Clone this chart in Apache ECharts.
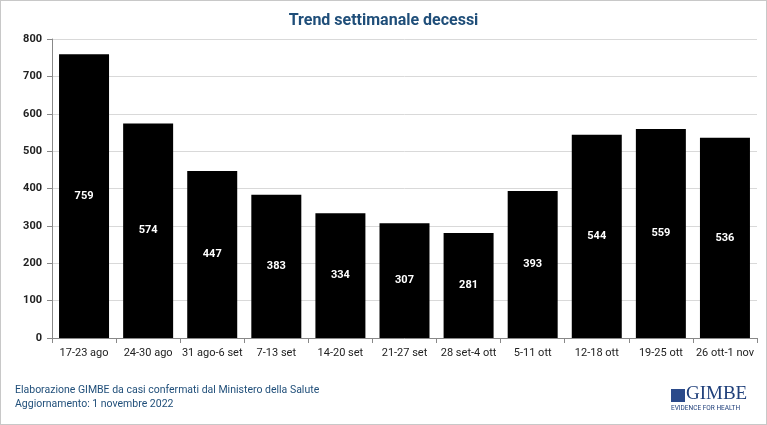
<!DOCTYPE html>
<html>
<head>
<meta charset="utf-8">
<script src="https://cdn.jsdelivr.net/npm/echarts@6/dist/echarts.min.js"></script>
<style>
  html, body { margin: 0; padding: 0; background: #fff; }
  #chart { width: 767px; height: 425px; box-sizing: border-box; border: 1px solid #c8c8c8; }
</style>
</head>
<body>
<div id="chart"></div>
<script>
const categories = ['17-23 ago', '24-30 ago', '31 ago-6 set', '7-13 set', '14-20 set', '21-27 set',
  '28 set-4 ott', '5-11 ott', '12-18 ott', '19-25 ott', '26 ott-1 nov'];
const deaths = [759, 574, 447, 383, 334, 307, 281, 393, 544, 559, 536];
const yTicks = [0, 100, 200, 300, 400, 500, 600, 700, 800];

const font = '"Liberation Sans Narrow", Roboto, sans-serif';
const chart = echarts.init(document.getElementById('chart'));

const option = {
  backgroundColor: '#fff',
  animation: false,
  title: {
    text: 'Trend settimanale decessi',
    left: 'center',
    top: 7,
    textStyle: { color: '#1f4e79', fontSize: 16, fontWeight: 'bold', fontFamily: font }
  },
  grid: { left: 51, right: 9, top: 38, bottom: 86 },
  xAxis: {
    type: 'category',
    data: categories,
    axisLine: { lineStyle: { color: '#888' } },
    axisTick: { show: true, length: 5, lineStyle: { color: '#888' } },
    axisLabel: { color: '#222', fontSize: 11, fontFamily: font, interval: 0, margin: 10 }
  },
  yAxis: {
    type: 'value',
    min: yTicks[0],
    max: yTicks[yTicks.length - 1],
    interval: 100,
    axisLine: { show: true, lineStyle: { color: '#888' } },
    axisTick: { show: true, length: 5, lineStyle: { color: '#888' } },
    axisLabel: { color: '#222', fontSize: 11, fontFamily: font, fontWeight: 'bold', margin: 10 },
    splitLine: { lineStyle: { color: '#d9d9d9' } }
  },
  series: [{
    type: 'bar',
    data: deaths,
    barCategoryGap: '22%',
    itemStyle: { color: '#000' },
    label: {
      show: true,
      position: 'inside',
      color: '#fff',
      fontSize: 11,
      fontWeight: 'bold',
      fontFamily: font
    }
  }],
  graphic: [
    {
      type: 'text', left: 14, top: 384,
      style: { text: 'Elaborazione GIMBE da casi confermati dal Ministero della Salute',
        fill: '#1f4e79', fontSize: 10.5, fontFamily: font }
    },
    {
      type: 'text', left: 14, top: 398,
      style: { text: 'Aggiornamento: 1 novembre 2022',
        fill: '#1f4e79', fontSize: 10.5, fontFamily: font }
    },
    {
      type: 'rect', left: 670, top: 388, shape: { width: 14, height: 13 },
      style: { fill: '#2b4a8a' }
    },
    {
      type: 'text', left: 685, top: 384,
      style: { text: 'GIMBE', fill: '#1f3f7a', fontSize: 19, fontFamily: '"Liberation Serif", serif' }
    },
    {
      type: 'text', left: 670, top: 404,
      style: { text: 'EVIDENCE FOR HEALTH', fill: '#1f3f7a', fontSize: 6.5, fontFamily: font }
    }
  ]
};
chart.setOption(option);
</script>
</body>
</html>
